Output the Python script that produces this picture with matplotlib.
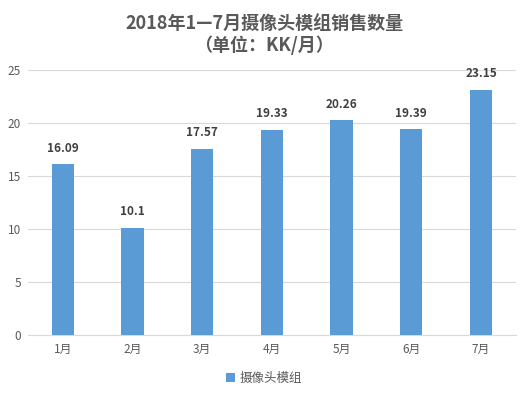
import matplotlib.pyplot as plt
import numpy as np

plt.rcParams['font.family'] = ['Noto Sans CJK SC', 'DejaVu Sans']

# data
months = ['1月', '2月', '3月', '4月', '5月', '6月', '7月']
values = [16.09, 10.1, 17.57, 19.33, 20.26, 19.39, 23.15]
labels = ['16.09', '10.1', '17.57', '19.33', '20.26', '19.39', '23.15']
yticks = [0, 5, 10, 15, 20, 25]

fig = plt.figure(figsize=(5.28, 3.93), dpi=100)
ax = fig.add_axes([0.053, 0.148, 0.924, 0.674])

x = np.arange(len(months))
bars = ax.bar(x, values, width=0.32, color='#5B9BD5', label='摄像头模组', zorder=3)

for xi, v, t in zip(x, values, labels):
    ax.text(xi, v + 0.9, t, ha='center', va='bottom', fontsize=8.5,
            fontweight='bold', color='#404040')

ax.set_xlim(-0.5, len(months) - 0.5)
ax.set_ylim(0, 25)
ax.set_yticks(yticks)
ax.set_xticks(x)
ax.set_xticklabels(months)
ax.yaxis.grid(True, color='#D9D9D9', linewidth=0.8, zorder=0)
ax.tick_params(axis='both', length=0, labelsize=8.5, colors='#595959')
ax.tick_params(axis='x', pad=6)
ax.tick_params(axis='y', pad=5)
for side in ['top', 'right', 'left']:
    ax.spines[side].set_visible(False)
ax.spines['bottom'].set_color('#D9D9D9')

fig.text(0.5, 0.937, '2018年1—7月摄像头模组销售数量', ha='center', va='center',
         fontsize=13, fontweight='bold', color='#595959')
fig.text(0.5, 0.885, '（单位：KK/月）', ha='center', va='center',
         fontsize=13, fontweight='bold', color='#595959')

fig.legend(loc='center', bbox_to_anchor=(0.5, 0.038), frameon=False, fontsize=9,
           handlelength=0.7, handleheight=0.7, handletextpad=0.4, labelcolor='#595959')

fig.savefig('out.png', dpi=100)
